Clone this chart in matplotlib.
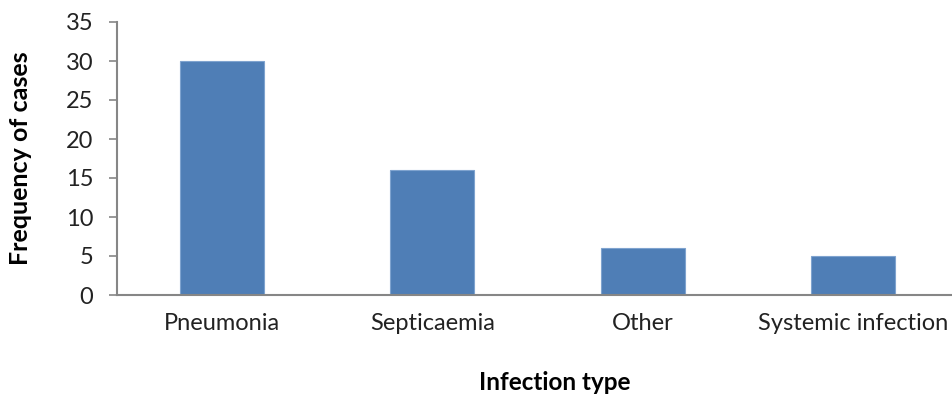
import matplotlib
matplotlib.use("Agg")
import matplotlib.pyplot as plt

# Data
categories = ["Pneumonia", "Septicaemia", "Other", "Systemic infection"]
cases = [30, 16, 6, 5]
y_ticks = [0, 5, 10, 15, 20, 25, 30, 35]

plt.rcParams['font.family'] = ['Lato', 'DejaVu Sans']

fig = plt.figure(figsize=(9.53, 3.98), dpi=100)
ax = fig.add_axes([117/953, 1 - 295/398, 841/953, 273/398])

x = list(range(len(categories)))
ax.bar(x, cases, width=0.4, color="#4F7EB6", edgecolor="#7FA3CF", linewidth=0.8)

ax.set_xlim(-0.5, 3.5)
ax.set_ylim(0, 35)
ax.set_yticks(y_ticks)
ax.set_xticks(x)
ax.set_xticklabels(categories)

for s in ["top", "right"]:
    ax.spines[s].set_visible(False)
for s in ["left", "bottom"]:
    ax.spines[s].set_color("#868686")
    ax.spines[s].set_linewidth(1.5)

ax.tick_params(axis="y", length=6, width=1.2, color="#868686", labelsize=17, labelcolor="#222222", pad=11)
ax.tick_params(axis="x", length=0, labelsize=17, labelcolor="#222222", pad=13)

ax.set_xlabel("Infection type", fontsize=17.5, fontweight="bold", labelpad=22)
ax.xaxis.set_label_coords(0.521, -0.28)
ax.set_ylabel("Frequency of cases", fontsize=18, fontweight="bold", labelpad=24)

fig.savefig("out.png", dpi=100)
